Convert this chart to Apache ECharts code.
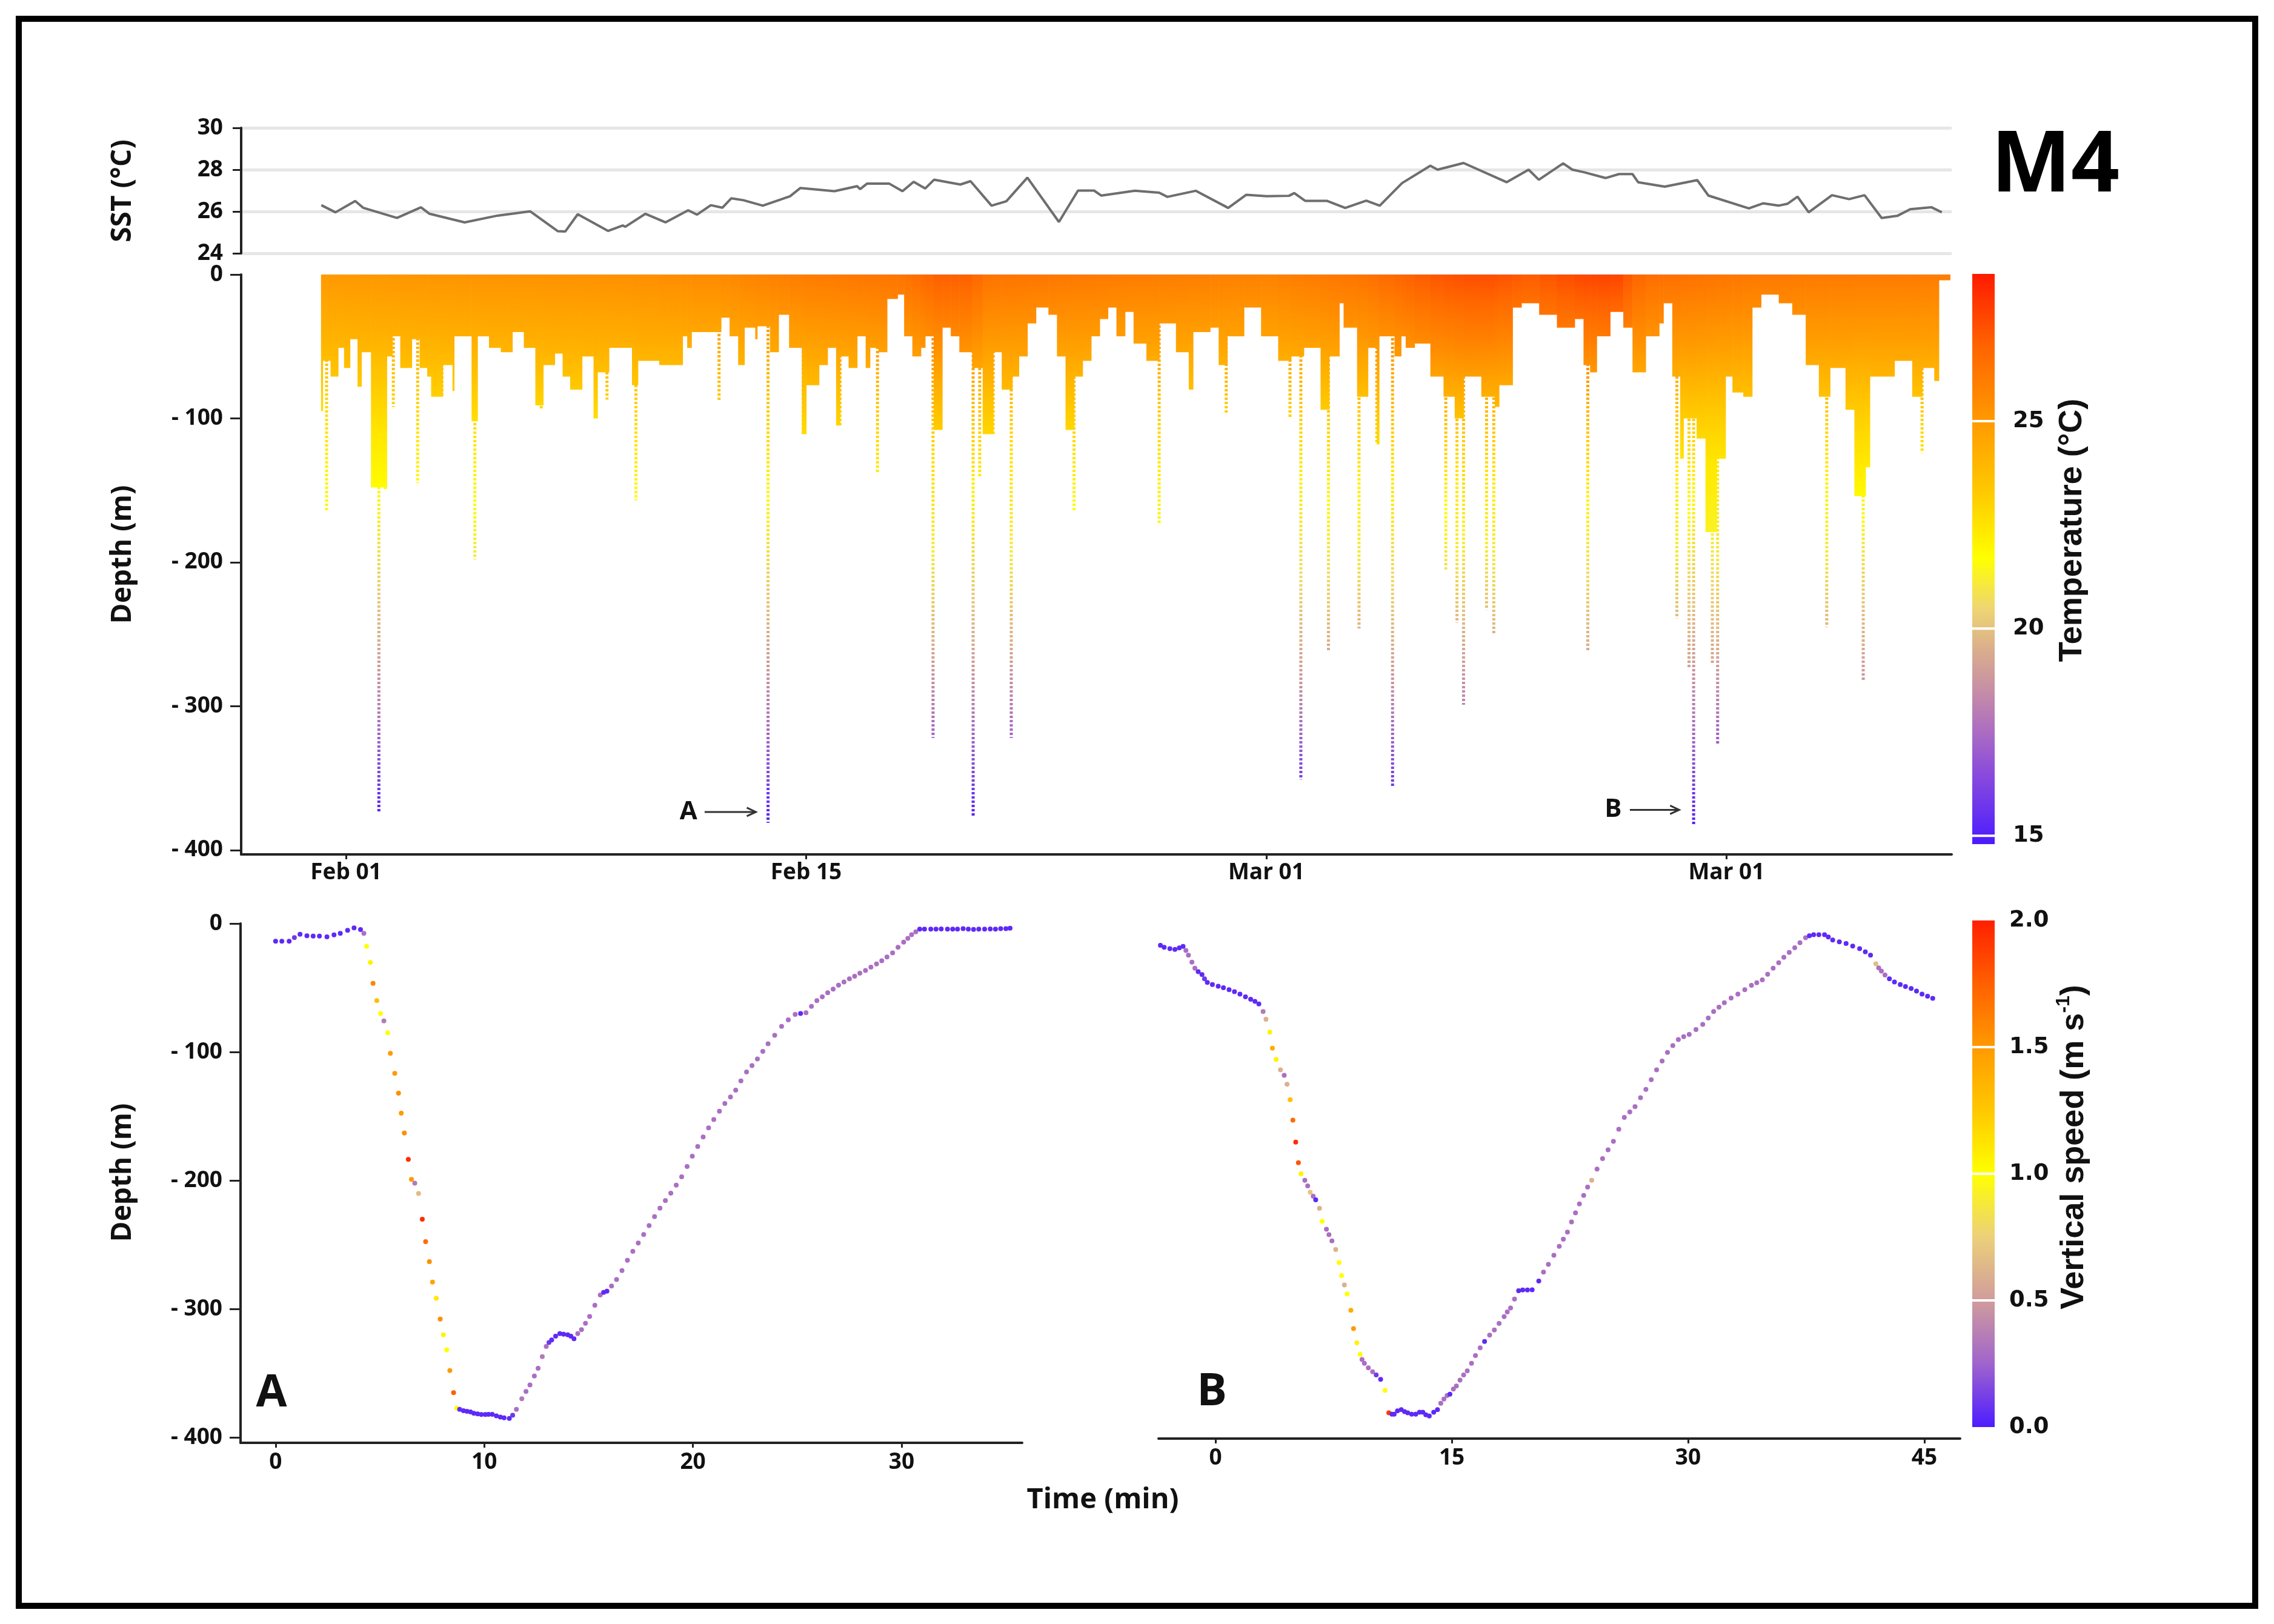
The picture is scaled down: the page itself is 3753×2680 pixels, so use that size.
<!DOCTYPE html>
<html>
<head>
<meta charset="UTF-8">
<title>M4</title>
<style>
  html, body { margin: 0; padding: 0; background: #fff; }
  #chart { width: 3753px; height: 2680px; }
</style>
<script src="https://cdn.jsdelivr.net/npm/echarts@6/dist/echarts.min.js"></script>
</head>
<body>
<div id="chart"></div>
<script>
// ---- top panel: sea surface temperature (day from Feb 01, deg C)
var sstDays = [-0.75, -0.32, 0.28, 0.52, 1.55, 2.28, 2.54, 3.61, 4.6, 5.6, 6.44, 6.67, 7.05, 7.97, 8.42, 8.5, 9.11, 9.72, 10.41, 10.68,
  11.1, 11.45, 11.72, 12.09, 12.68, 13.51, 13.82, 14.86, 15.55, 15.64, 15.85, 16.53, 16.93, 17.27, 17.62, 17.89, 18.69, 19.0, 19.64, 20.09,
  20.73, 21.69, 22.27, 22.76, 22.98, 24.0, 24.74, 24.99, 25.85, 26.84, 27.39, 28.01, 28.69, 28.85, 29.18, 29.84, 30.4, 31.04, 31.45, 32.13,
  32.99, 33.21, 34.0, 35.31, 35.98, 36.29, 37.03, 37.31, 37.66, 38.32, 38.73, 39.14, 39.31, 40.12, 41.11, 41.45, 42.68, 43.11, 43.58, 43.86,
  44.16, 44.5, 45.21, 45.73, 46.2, 46.72, 47.21, 47.59, 48.24, 48.55];
var sstTemps = [26.3, 25.96, 26.5, 26.18, 25.69, 26.2, 25.89, 25.48, 25.8, 26.01, 25.06, 25.04, 25.87, 25.07, 25.33, 25.27, 25.89, 25.48, 26.06, 25.85,
  26.3, 26.18, 26.63, 26.54, 26.28, 26.73, 27.12, 26.97, 27.21, 27.07, 27.33, 27.33, 26.97, 27.42, 27.1, 27.52, 27.29, 27.45, 26.28, 26.49,
  27.62, 25.5, 27.0, 27.0, 26.76, 26.99, 26.9, 26.7, 26.99, 26.17, 26.8, 26.73, 26.75, 26.88, 26.51, 26.51, 26.17, 26.52, 26.28, 27.36,
  28.19, 28.0, 28.32, 27.4, 28.0, 27.52, 28.3, 28.0, 27.88, 27.6, 27.79, 27.79, 27.4, 27.19, 27.5, 26.76, 26.15, 26.39, 26.28, 26.37,
  26.71, 25.96, 26.78, 26.59, 26.78, 25.69, 25.8, 26.11, 26.2, 25.96];

// ---- depth panel: dense shallow diving, start day of each block and its lower edge (m)
var bulkDays = [-0.76, -0.71, -0.47, -0.24, -0.06, 0.12, 0.35, 0.47, 0.76, 1.24, 1.41, 1.65, 2.0, 2.24, 2.47, 2.59, 2.94, 3.24, 3.29, 3.82,
  4.0, 4.35, 4.71, 5.06, 5.41, 5.76, 6.0, 6.35, 6.59, 6.82, 7.18, 7.53, 7.65, 8.0, 8.7, 8.88, 9.53, 10.24, 10.38, 10.51,
  11.41, 11.67, 11.93, 12.12, 12.45, 12.51, 12.9, 13.16, 13.48, 13.87, 14.0, 14.39, 14.65, 14.91, 15.03, 15.29, 15.55, 15.81, 15.94, 16.2,
  16.46, 16.78, 16.98, 17.23, 17.49, 17.62, 17.88, 18.14, 18.4, 18.66, 19.05, 19.37, 19.69, 19.95, 20.27, 20.47, 20.73, 20.99, 21.37, 21.63,
  21.89, 22.15, 22.41, 22.67, 22.93, 23.18, 23.44, 23.7, 23.96, 24.35, 24.74, 25.25, 25.64, 25.77, 26.29, 26.55, 26.81, 27.32, 27.84, 28.36,
  28.75, 29.14, 29.65, 29.91, 30.22, 30.35, 30.76, 31.09, 31.36, 31.43, 31.9, 32.1, 32.24, 32.51, 32.99, 33.39, 33.73, 34.0, 34.54, 34.95,
  35.08, 35.49, 35.76, 36.3, 36.84, 37.38, 37.65, 37.85, 38.05, 38.46, 38.86, 39.14, 39.54, 39.95, 40.08, 40.35, 40.59, 40.69, 40.82, 41.09,
  41.36, 41.7, 41.97, 42.18, 42.51, 42.78, 43.05, 43.59, 44.0, 44.41, 44.81, 45.15, 45.62, 45.89, 46.23, 46.36, 47.11, 47.65, 47.95, 48.32, 48.46];
var bulkDepths = [95, 60, 71, 51, 65, 45, 78, 54, 148, 57, 43, 65, 45, 65, 71, 85, 63, 81, 43, 102,
  43, 51, 54, 40, 51, 91, 63, 55, 71, 80, 57, 100, 68, 51, 77, 60, 63, 43, 51, 40,
  30, 43, 63, 37, 45, 36, 54, 28, 51, 111, 77, 63, 51, 105, 57, 65, 43, 65, 51, 54,
  17, 14, 43, 57, 51, 43, 108, 37, 43, 54, 65, 111, 54, 80, 71, 57, 34, 23, 28, 57,
  108, 71, 60, 43, 31, 23, 43, 26, 48, 60, 34, 54, 80, 40, 37, 63, 43, 23, 43, 60,
  57, 51, 94, 57, 20, 37, 85, 51, 118, 43, 57, 43, 51, 48, 71, 85, 100, 71, 85, 92,
  77, 23, 20, 28, 37, 31, 63, 68, 43, 26, 37, 68, 43, 34, 20, 71, 128, 100, 100, 114,
  179, 128, 71, 82, 85, 23, 14, 20, 28, 63, 85, 65, 94, 154, 134, 71, 60, 85, 65, 74, 4];
var bulkEnd = 48.8;

// single deeper dives (dotted tails): day and maximum depth (m)
var diveDays = [-0.59, 1.0, 1.2, 1.44, 2.18, 2.92, 3.92, 5.94, 7.59, 7.94, 8.82, 11.35, 12.84, 13.91, 15.03, 16.17, 17.86, 18.01, 19.08, 19.28,
  19.69, 20.24, 22.15, 24.74, 26.78, 28.72, 29.05, 29.89, 30.82, 31.36, 31.84, 33.46, 33.8, 34.0, 34.7, 34.92, 37.78, 40.49, 40.86, 41.0,
  41.57, 41.73, 45.05, 46.16, 47.95];
var diveDepths = [165, 374, 150, 92, 145, 85, 198, 94, 100, 87, 157, 88, 381, 111, 105, 138, 322, 108, 376, 141,
  111, 322, 165, 174, 97, 100, 351, 262, 246, 118, 356, 205, 242, 299, 233, 250, 262, 239, 273, 383,
  270, 327, 245, 282, 124];

// surface colour of the profiles through time (deg C) and the temperature profile with depth
var surfDays = [-1, 4, 8, 11, 14, 17, 18, 19, 19.5, 24, 28, 31, 33, 34.5, 36, 37.5, 38.6, 39.5, 43, 49];
var surfTemps = [25.0, 25.2, 25.3, 25.5, 26.0, 26.3, 26.9, 26.9, 26.3, 26.0, 25.8, 26.3, 27.1, 27.4, 27.0, 27.5, 27.6, 26.5, 26.1, 26.0];
var profDepths = [0, 50, 100, 150, 200, 230, 270, 295, 320, 345, 370, 400];
var profTemps = [25.3, 24.2, 22.7, 21.8, 21.0, 20.0, 19.2, 18.3, 17.3, 16.3, 15.2, 14.9];

// colour scales
var tempStops = [14.8, 15.5, 16.5, 17.5, 18.5, 19.5, 20.5, 21.7, 23.2, 25, 26.8, 28.55];
var tempColors = ['#4a1aff', '#6630f0', '#8a4bdc', '#ac6cc2', '#c68ea6', '#daae8c', '#efd672', '#ffff00', '#ffcc00', '#ff9a00', '#ff6400', '#ff1a00'];
var tempTicks = [15, 20, 25];
var speedStops = [0, 0.25, 0.5, 0.75, 1.0, 1.25, 1.5, 1.75, 2.0];
var speedColors = ['#4d1cff', '#a064cc', '#d09c9c', '#ecd07a', '#ffff00', '#ffc800', '#ff9a00', '#ff6000', '#ff2000'];
var speedTicks = [0, 0.5, 1, 1.5, 2];

// axis ticks
var dateTickDays = [0, 14, 28, 42];
var dateTickLabels = ['Feb 01', 'Feb 15', 'Mar 01', 'Mar 01'];
var depthTicks = [0, -100, -200, -300, -400];
var timeTicksA = [0, 10, 20, 30];
var timeTicksB = [0, 15, 30, 45];

// dive A and dive B: [time (min), depth (m), vertical speed (m/s)]
var diveA = [[0, -13.8, 0.05], [0.3, -13.8, 0.05], [0.65, -13.8, 0.05], [0.9, -11, 0.1], [1.17, -8.4, 0.05], [1.5, -9.5, 0.05], [1.8, -9.8, 0.05],
  [2.1, -9.8, 0.05], [2.46, -10.4, 0.05], [2.8, -8.8, 0.05], [3.1, -7.7, 0.05], [3.45, -5.3, 0.05], [3.76, -3.4, 0.05], [4.07, -4.7, 0.05],
  [4.23, -7.7, 0.3], [4.36, -17.8, 1.0], [4.54, -30.3, 1.05], [4.67, -46.5, 1.6], [4.85, -60, 1.3], [5.03, -70, 1.0], [5.19, -75.8, 0.35],
  [5.37, -85, 1.0], [5.5, -101, 1.5], [5.71, -116.5, 1.5], [5.89, -132, 1.55], [6.02, -147.5, 1.5], [6.17, -163, 1.55], [6.36, -183.5, 1.95],
  [6.51, -199, 1.5], [6.67, -202, 0.35], [6.85, -210, 0.65], [7.03, -230, 1.95], [7.19, -247.5, 1.7], [7.37, -263, 1.55], [7.52, -279, 1.45],
  [7.7, -291.6, 1.1], [7.89, -307.7, 1.55], [8.04, -320, 1.05], [8.2, -331.6, 1.0], [8.35, -347.8, 1.5], [8.53, -365, 1.75], [8.69, -377, 1.0],
  [8.82, -378, 0.05], [9.0, -379, 0.05], [9.17, -379.5, 0.05], [9.34, -380, 0.05], [9.5, -381, 0.05], [9.68, -381.5, 0.05], [9.86, -382, 0.05],
  [10.05, -382, 0.05], [10.2, -381.8, 0.05], [10.38, -381.8, 0.05], [10.58, -383, 0.05], [10.77, -384, 0.05], [10.95, -384.5, 0.05],
  [11.2, -385, 0.05], [11.36, -382.5, 0.1], [11.54, -378, 0.3], [11.8, -369.7, 0.35], [12.0, -364, 0.3], [12.19, -359, 0.3], [12.4, -352, 0.3],
  [12.58, -346, 0.3], [12.78, -337, 0.35], [12.97, -329, 0.3], [13.1, -326, 0.1], [13.23, -324, 0.05], [13.42, -321, 0.05], [13.62, -319, 0.05],
  [13.8, -319.5, 0.05], [14.0, -320, 0.05], [14.15, -321, 0.05], [14.3, -323, 0.05], [14.48, -319, 0.3], [14.66, -316, 0.3], [14.85, -311, 0.3],
  [15.05, -305.7, 0.3], [15.3, -297, 0.3], [15.56, -289, 0.3], [15.72, -287, 0.05], [15.88, -286, 0.05], [16.1, -282, 0.3], [16.34, -277, 0.3],
  [16.6, -270, 0.3], [16.86, -262, 0.3], [17.12, -255, 0.3], [17.38, -248.5, 0.3], [17.64, -242, 0.3], [17.9, -235, 0.3], [18.16, -228, 0.3],
  [18.42, -221.5, 0.3], [18.68, -215.5, 0.3], [18.94, -209.8, 0.3], [19.2, -203.5, 0.3], [19.46, -197, 0.3], [19.72, -189, 0.3],
  [19.97, -181, 0.3], [20.23, -173.5, 0.3], [20.49, -166, 0.3], [20.75, -159, 0.3], [21.0, -152.5, 0.3], [21.27, -146, 0.3], [21.53, -140, 0.3],
  [21.8, -135, 0.3], [22.05, -129.6, 0.3], [22.3, -122.5, 0.3], [22.57, -115.5, 0.3], [22.83, -110.5, 0.3], [23.09, -105.4, 0.3],
  [23.35, -99.5, 0.3], [23.6, -93.6, 0.3], [23.92, -87, 0.3], [24.25, -80, 0.3], [24.57, -75, 0.3], [24.9, -70.7, 0.3], [25.16, -70, 0.05],
  [25.42, -69.4, 0.3], [25.68, -64.5, 0.3], [25.94, -60, 0.3], [26.2, -57, 0.3], [26.46, -53.9, 0.3], [26.72, -51, 0.3], [26.98, -48, 0.3],
  [27.24, -45.5, 0.3], [27.5, -43, 0.3], [27.75, -41, 0.3], [28.0, -38.7, 0.3], [28.27, -36.5, 0.3], [28.53, -34, 0.3], [28.8, -31.5, 0.3],
  [29.05, -29, 0.3], [29.3, -26, 0.3], [29.57, -22.9, 0.3], [29.83, -18.5, 0.3], [30.1, -14.5, 0.3], [30.3, -11.5, 0.3], [30.48, -8.75, 0.3],
  [30.68, -6.5, 0.3], [30.87, -4.4, 0.05], [31.1, -4.4, 0.05], [31.4, -4.4, 0.05], [31.65, -4.4, 0.05], [31.9, -4.2, 0.05], [32.2, -4.4, 0.05],
  [32.45, -4.4, 0.05], [32.68, -4.4, 0.05], [32.95, -4.0, 0.05], [33.2, -4.4, 0.05], [33.45, -4.6, 0.05], [33.7, -4.4, 0.05], [33.98, -4.4, 0.05],
  [34.25, -4.2, 0.05], [34.5, -4.4, 0.05], [34.75, -4.0, 0.05], [35.0, -4.0, 0.05], [35.2, -3.7, 0.05]];

var diveB = [[-4.36, -19.5, 0.05], [-4.05, -17, 0.05], [-3.78, -15.2, 0.05], [-3.5, -17, 0.05], [-3.26, -18.5, 0.05], [-2.9, -19.5, 0.05],
  [-2.58, -20.2, 0.05], [-2.3, -19, 0.05], [-2.06, -17.8, 0.05], [-1.88, -21, 0.3], [-1.72, -24.6, 0.3], [-1.5, -30, 0.3], [-1.31, -34.7, 0.3],
  [-1.1, -37.5, 0.05], [-0.86, -39.7, 0.05], [-0.7, -43, 0.1], [-0.52, -45.8, 0.05], [-0.2, -47.5, 0.05], [0.17, -48.8, 0.05], [0.5, -50, 0.05],
  [0.86, -51.5, 0.05], [1.2, -53, 0.05], [1.55, -54.9, 0.05], [1.9, -57, 0.05], [2.23, -58.9, 0.05], [2.5, -60.5, 0.05], [2.75, -62.6, 0.05],
  [3.02, -68.4, 0.35], [3.2, -74.4, 0.6], [3.44, -84.5, 1.05], [3.61, -97, 1.4], [3.85, -105.7, 1.05], [4.12, -113.8, 0.6], [4.36, -118, 0.3],
  [4.54, -125, 0.6], [4.74, -137, 1.3], [4.91, -152.9, 1.7], [5.09, -170, 1.95], [5.26, -186, 1.8], [5.43, -194.6, 1.05], [5.67, -199.7, 0.3],
  [5.85, -204, 0.3], [6.01, -209, 0.7], [6.2, -212, 0.3], [6.36, -214.8, 0.05], [6.6, -221.5, 0.6], [6.77, -231.6, 1.0], [7.04, -237.7, 0.3],
  [7.2, -242, 0.3], [7.39, -246.8, 0.3], [7.63, -253.5, 0.6], [7.84, -263.6, 1.0], [8.0, -273.7, 1.0], [8.18, -281, 0.6], [8.35, -288, 1.0],
  [8.59, -300.7, 1.4], [8.76, -315, 1.5], [8.97, -326, 1.05], [9.18, -335, 1.0], [9.3, -339, 0.3], [9.45, -342, 0.3], [9.7, -345.5, 0.3],
  [9.97, -348.5, 0.3], [10.2, -351, 0.1], [10.48, -354.5, 0.05], [10.76, -363, 1.0], [11.0, -380.5, 1.9], [11.2, -381.5, 0.05],
  [11.34, -381.5, 0.05], [11.55, -379, 0.05], [11.79, -378, 0.05], [12.0, -379.5, 0.05], [12.2, -380.5, 0.05], [12.45, -381.5, 0.05],
  [12.71, -381.5, 0.05], [12.95, -380, 0.05], [13.16, -380, 0.05], [13.35, -382, 0.05], [13.57, -383, 0.05], [13.85, -380, 0.05],
  [14.09, -378, 0.05], [14.3, -373, 0.3], [14.5, -369.7, 0.3], [14.7, -367, 0.3], [14.88, -366, 0.05], [15.1, -362, 0.3], [15.29, -359.6, 0.3],
  [15.52, -355, 0.3], [15.75, -351, 0.3], [15.98, -347.8, 0.3], [16.25, -342, 0.3], [16.5, -336, 0.3], [16.8, -330, 0.3], [17.08, -325, 0.05],
  [17.4, -320, 0.3], [17.7, -316, 0.3], [18.0, -311, 0.3], [18.32, -305.7, 0.3], [18.52, -302, 0.3], [18.73, -299, 0.3], [18.98, -292, 0.3],
  [19.24, -285.5, 0.05], [19.5, -285, 0.05], [19.8, -285, 0.05], [20.1, -284.8, 0.05], [20.52, -278, 0.05], [20.82, -271, 0.3], [21.13, -265, 0.3],
  [21.48, -258, 0.3], [21.82, -251, 0.3], [22.08, -245.5, 0.3], [22.34, -240, 0.3], [22.6, -232, 0.3], [22.85, -225, 0.3], [23.1, -218, 0.3],
  [23.37, -211.4, 0.3], [23.62, -205, 0.3], [23.88, -199.7, 0.6], [24.22, -191, 0.3], [24.57, -182.8, 0.3], [24.92, -176, 0.3], [25.26, -169.4, 0.3],
  [25.6, -160, 0.3], [25.95, -150.8, 0.3], [26.3, -146.5, 0.3], [26.63, -142.4, 0.3], [26.98, -135.5, 0.3], [27.32, -129, 0.3], [27.66, -121.5, 0.3],
  [28.0, -113.8, 0.3], [28.35, -107, 0.3], [28.69, -100.3, 0.3], [29.03, -95, 0.3], [29.38, -90.2, 0.3], [29.72, -88, 0.3], [30.07, -86.2, 0.3],
  [30.5, -82.5, 0.3], [30.93, -78.5, 0.3], [31.28, -73.5, 0.3], [31.62, -68.4, 0.3], [31.96, -65, 0.3], [32.3, -61.6, 0.3], [32.73, -58, 0.3],
  [33.16, -54.9, 0.3], [33.6, -51.5, 0.3], [34.02, -48.1, 0.3], [34.36, -46, 0.3], [34.71, -43.8, 0.3], [35.05, -39.5, 0.3], [35.4, -34.7, 0.3],
  [35.75, -30.5, 0.3], [36.08, -26.3, 0.3], [36.42, -22.5, 0.3], [36.77, -18.9, 0.3], [37.1, -15, 0.3], [37.46, -11.1, 0.3], [37.7, -9.5, 0.05],
  [37.97, -8.75, 0.05], [38.3, -8.75, 0.05], [38.66, -8.75, 0.05], [38.9, -10.5, 0.05], [39.18, -12.8, 0.05], [39.6, -14.2, 0.05],
  [40.03, -15.5, 0.05], [40.45, -17.5, 0.05], [40.89, -19.5, 0.05], [41.25, -22, 0.05], [41.58, -24.6, 0.05], [41.92, -31.3, 0.65],
  [42.1, -34.5, 0.3], [42.27, -37, 0.3], [42.5, -40, 0.3], [42.78, -43, 0.05], [43.1, -45.5, 0.05], [43.47, -47.5, 0.05], [43.8, -49, 0.05],
  [44.16, -50.5, 0.05], [44.5, -52.5, 0.05], [44.85, -54.9, 0.05], [45.2, -56.5, 0.05], [45.53, -58.2, 0.05]];

// "A ->" and "B ->" pointers on the depth panel: label, label day, arrow from day, arrow to day, depth (m)
var pointers = [['A', 10.42, 10.91, 12.47, 373.5], ['B', 38.55, 39.06, 40.56, 372]];

// ---------------------------------------------------------------
function interp(xs, ys, x) {
  if (x <= xs[0]) return ys[0];
  for (var i = 1; i < xs.length; i++) {
    if (x <= xs[i]) {
      var t = (x - xs[i - 1]) / (xs[i] - xs[i - 1]);
      return ys[i - 1] + (ys[i] - ys[i - 1]) * t;
    }
  }
  return ys[ys.length - 1];
}
function mix(a, b, t) {
  var pa = parseInt(a.slice(1), 16), pb = parseInt(b.slice(1), 16);
  var r = Math.round(((pa >> 16) & 255) * (1 - t) + ((pb >> 16) & 255) * t);
  var g = Math.round(((pa >> 8) & 255) * (1 - t) + ((pb >> 8) & 255) * t);
  var bl = Math.round((pa & 255) * (1 - t) + (pb & 255) * t);
  return 'rgb(' + r + ',' + g + ',' + bl + ')';
}
function ramp(stops, cols, v) {
  if (v <= stops[0]) return cols[0];
  for (var i = 1; i < stops.length; i++) {
    if (v <= stops[i]) return mix(cols[i - 1], cols[i], (v - stops[i - 1]) / (stops[i] - stops[i - 1]));
  }
  return cols[cols.length - 1];
}
function tempAt(day, depth) {
  var s = interp(surfDays, surfTemps, day);
  var p = interp(profDepths, profTemps, depth);
  var w = Math.max(0, 1 - depth / 180);
  return p + (s - profTemps[0]) * w;
}
function tempColor(t) { return ramp(tempStops, tempColors, t); }

var dayMin = -3.19, dayMax = 48.85;
var axisColor = '#222';
var tickFont = { fontFamily: 'Open Sans', fontWeight: 'bold', fontSize: 37, color: '#111' };
var barFont = { fontFamily: 'DejaVu Sans', fontWeight: 'bold', fontSize: 37, color: '#111' };

function depthLabel(v) { return v === 0 ? '0' : '- ' + Math.abs(v); }

function renderBulk(params, api) {
  var d0 = api.value(0), d1 = api.value(1), dep = api.value(2);
  var a = api.coord([d0, 0]), b = api.coord([d1, -dep]);
  var mid = (d0 + d1) / 2;
  var stops = [0, 0.25, 0.5, 0.75, 1].map(function (o) {
    return { offset: o, color: tempColor(tempAt(mid, dep * o)) };
  });
  return {
    type: 'rect',
    shape: { x: a[0], y: a[1], width: b[0] - a[0] + 0.6, height: b[1] - a[1] },
    style: { fill: new echarts.graphic.LinearGradient(0, 0, 0, 1, stops) }
  };
}
function renderDive(params, api) {
  var d = api.value(0), dep = api.value(1);
  var top = api.coord([d, 0]), bot = api.coord([d, -dep]);
  var stops = [0, 0.2, 0.4, 0.6, 0.8, 1].map(function (o) {
    return { offset: o, color: tempColor(tempAt(d, dep * o)) };
  });
  return {
    type: 'line',
    shape: { x1: top[0], y1: top[1], x2: bot[0], y2: bot[1] },
    style: {
      stroke: new echarts.graphic.LinearGradient(top[0], top[1], bot[0], bot[1], stops, true),
      lineWidth: 5, lineDash: [4, 3]
    }
  };
}
function renderPointer(params, api) {
  var p = pointers[params.dataIndex];
  var y = -api.value(3);
  var t = api.coord([api.value(0), y]);
  var a = api.coord([api.value(1), y]);
  var b = api.coord([api.value(2), y]);
  return {
    type: 'group',
    children: [
      { type: 'text', x: t[0], y: t[1], style: { text: p[0], font: 'bold 42px "Open Sans"', fill: '#111', align: 'center', verticalAlign: 'middle' } },
      { type: 'line', shape: { x1: a[0], y1: a[1], x2: b[0], y2: b[1] }, style: { stroke: '#333', lineWidth: 3 } },
      { type: 'polyline', shape: { points: [[b[0] - 15, b[1] - 7], [b[0], b[1]], [b[0] - 15, b[1] + 7]] }, style: { stroke: '#333', lineWidth: 3, fill: null } }
    ]
  };
}
function colorbar(stops, cols, lines) {
  return function (params, api) {
    var lo = stops[0], hi = stops[stops.length - 1];
    var p0 = api.coord([0, hi]), p1 = api.coord([1, lo]);
    var grad = [];
    for (var i = stops.length - 1; i >= 0; i--) {
      grad.push({ offset: (hi - stops[i]) / (hi - lo), color: cols[i] });
    }
    var children = [{
      type: 'rect',
      shape: { x: p0[0], y: p0[1], width: p1[0] - p0[0], height: p1[1] - p0[1] },
      style: { fill: new echarts.graphic.LinearGradient(0, 0, 0, 1, grad) }
    }];
    lines.forEach(function (v) {
      if (v > lo && v < hi) {
        var yy = api.coord([0, v])[1];
        children.push({ type: 'line', shape: { x1: p0[0], y1: yy, x2: p1[0], y2: yy }, style: { stroke: '#fff', lineWidth: 4 } });
      }
    });
    return { type: 'group', children: children };
  };
}
function plainX(grid, min, max, ticks) {
  return {
    gridIndex: grid, type: 'value', min: min, max: max,
    axisLine: { show: true, onZero: false, lineStyle: { color: axisColor, width: 4 } },
    axisTick: { show: true, customValues: ticks, length: 8, lineStyle: { color: axisColor, width: 3 } },
    axisLabel: Object.assign({ customValues: ticks, margin: 14 }, tickFont),
    splitLine: { show: false }
  };
}
function depthY(grid, min) {
  return {
    gridIndex: grid, type: 'value', min: min, max: 0,
    axisLine: { show: true, onZero: false, lineStyle: { color: axisColor, width: 4 } },
    axisTick: { show: true, customValues: depthTicks, length: 18, lineStyle: { color: axisColor, width: 3 } },
    axisLabel: Object.assign({ customValues: depthTicks, formatter: depthLabel, margin: 30 }, tickFont),
    splitLine: { show: false }
  };
}
function hiddenAxis(grid, min, max) {
  return { gridIndex: grid, type: 'value', min: min, max: max, show: false, splitLine: { show: false } };
}

var bulkData = bulkDays.map(function (d, i) {
  return [d, i + 1 < bulkDays.length ? bulkDays[i + 1] : bulkEnd, bulkDepths[i]];
});
var diveData = diveDays.map(function (d, i) { return [d, diveDepths[i]]; });
var sstData = sstDays.map(function (d, i) { return [d, sstTemps[i]]; });
var pointerData = pointers.map(function (p) { return [p[1], p[2], p[3], p[4]]; });
var speedColor = function (p) { return ramp(speedStops, speedColors, p.value[2]); };

var chart = echarts.init(document.getElementById('chart'));
chart.setOption({
  animation: false,
  backgroundColor: '#fff',
  grid: [
    { left: 398, top: 211, width: 2823, height: 207, outerBoundsMode: 'none' },
    { left: 398, top: 453, width: 2823, height: 957, outerBoundsMode: 'none' },
    { left: 397, top: 1524, width: 1290, height: 857, outerBoundsMode: 'none' },
    { left: 1912, top: 1524, width: 1323, height: 850, outerBoundsMode: 'none' },
    { left: 3255, top: 452, width: 37, height: 941, outerBoundsMode: 'none' },
    { left: 3255, top: 1519, width: 37, height: 836, outerBoundsMode: 'none' }
  ],
  xAxis: [
    hiddenAxis(0, dayMin, dayMax),
    {
      gridIndex: 1, type: 'value', min: dayMin, max: dayMax,
      axisLine: { show: true, onZero: false, lineStyle: { color: axisColor, width: 4 } },
      axisTick: { show: true, customValues: dateTickDays, length: 8, lineStyle: { color: axisColor, width: 3 } },
      axisLabel: Object.assign({
        customValues: dateTickDays, margin: 12,
        formatter: function (v) { return dateTickLabels[dateTickDays.indexOf(v)]; }
      }, tickFont),
      splitLine: { show: false }
    },
    plainX(2, -1.68, 35.78, timeTicksA),
    plainX(3, -3.62, 47.27, timeTicksB),
    hiddenAxis(4, 0, 1),
    hiddenAxis(5, 0, 1)
  ],
  yAxis: [
    {
      gridIndex: 0, type: 'value', min: 24, max: 30, interval: 2,
      axisLine: { show: true, onZero: false, lineStyle: { color: axisColor, width: 4 } },
      axisTick: { show: true, length: 14, lineStyle: { color: axisColor, width: 3 } },
      axisLabel: Object.assign({ margin: 30 }, tickFont),
      splitLine: { show: true, lineStyle: { color: '#e6e6e6', width: 5 } }
    },
    depthY(1, -403),
    depthY(2, -404),
    hiddenAxis(3, -400.5, 0),
    {
      gridIndex: 4, type: 'value', position: 'right', min: 14.8, max: 28.55,
      axisLine: { show: false }, axisTick: { show: false }, splitLine: { show: false },
      axisLabel: Object.assign({ customValues: tempTicks, margin: 30 }, barFont)
    },
    {
      gridIndex: 5, type: 'value', position: 'right', min: 0, max: 2,
      axisLine: { show: false }, axisTick: { show: false }, splitLine: { show: false },
      axisLabel: Object.assign({ customValues: speedTicks, margin: 24, formatter: function (v) { return v.toFixed(1); } }, barFont)
    }
  ],
  series: [
    {
      name: 'SST', type: 'line', xAxisIndex: 0, yAxisIndex: 0, data: sstData,
      showSymbol: false, symbol: 'none', lineStyle: { color: '#6e6e6e', width: 4 }
    },
    { name: 'deep dives', type: 'custom', xAxisIndex: 1, yAxisIndex: 1, data: diveData, renderItem: renderDive, z: 2 },
    { name: 'shallow dives', type: 'custom', xAxisIndex: 1, yAxisIndex: 1, data: bulkData, renderItem: renderBulk, z: 3 },
    { name: 'pointers', type: 'custom', xAxisIndex: 1, yAxisIndex: 1, data: pointerData, renderItem: renderPointer, z: 4 },
    {
      name: 'A', type: 'scatter', xAxisIndex: 2, yAxisIndex: 2, data: diveA,
      symbolSize: 8, itemStyle: { color: speedColor, opacity: 1 }
    },
    {
      name: 'B', type: 'scatter', xAxisIndex: 3, yAxisIndex: 3, data: diveB,
      symbolSize: 8, itemStyle: { color: speedColor, opacity: 1 }
    },
    { name: 'temperature scale', type: 'custom', xAxisIndex: 4, yAxisIndex: 4, data: [[0]], renderItem: colorbar(tempStops, tempColors, tempTicks) },
    { name: 'speed scale', type: 'custom', xAxisIndex: 5, yAxisIndex: 5, data: [[0]], renderItem: colorbar(speedStops, speedColors, speedTicks) }
  ],
  graphic: [
    { type: 'rect', shape: { x: 31, y: 31, width: 3691, height: 2619 }, style: { fill: null, stroke: '#000', lineWidth: 10 }, z: 100 },
    { type: 'text', x: 3392, y: 276, style: { text: 'M4', font: 'bold 140px "Open Sans"', fill: '#000', align: 'center', verticalAlign: 'middle' } },
    { type: 'text', x: 203, y: 315, rotation: Math.PI / 2, style: { text: 'SST (°C)', font: 'bold 46px "Open Sans"', fill: '#111', align: 'center', verticalAlign: 'middle' } },
    { type: 'text', x: 203, y: 915, rotation: Math.PI / 2, style: { text: 'Depth (m)', font: 'bold 46px "Open Sans"', fill: '#111', align: 'center', verticalAlign: 'middle' } },
    { type: 'text', x: 203, y: 1935, rotation: Math.PI / 2, style: { text: 'Depth (m)', font: 'bold 46px "Open Sans"', fill: '#111', align: 'center', verticalAlign: 'middle' } },
    { type: 'text', x: 1820, y: 2476, style: { text: 'Time (min)', font: 'bold 47px "Open Sans"', fill: '#111', align: 'center', verticalAlign: 'middle' } },
    { type: 'text', x: 448, y: 2300, style: { text: 'A', font: 'bold 74px "Open Sans"', fill: '#111', align: 'center', verticalAlign: 'middle' } },
    { type: 'text', x: 2000, y: 2298, style: { text: 'B', font: 'bold 74px "Open Sans"', fill: '#111', align: 'center', verticalAlign: 'middle' } },
    { type: 'text', x: 3420, y: 875, rotation: Math.PI / 2, style: { text: 'Temperature (°C)', font: 'bold 54px "Liberation Sans Narrow", "Liberation Sans", sans-serif', fill: '#111', align: 'center', verticalAlign: 'middle' } },
    {
      type: 'text', x: 3420, y: 1893, rotation: Math.PI / 2,
      style: {
        text: '{a|Vertical speed (m s}{s|-1}{a|)}', align: 'center', verticalAlign: 'middle', fill: '#111',
        rich: {
          a: { font: 'bold 54px "Liberation Sans Narrow", "Liberation Sans", sans-serif', lineHeight: 60, verticalAlign: 'bottom', fill: '#111' },
          s: { font: 'bold 32px "Liberation Sans Narrow", "Liberation Sans", sans-serif', lineHeight: 30, verticalAlign: 'top', fill: '#111' }
        }
      }
    }
  ]
});
</script>
</body>
</html>
